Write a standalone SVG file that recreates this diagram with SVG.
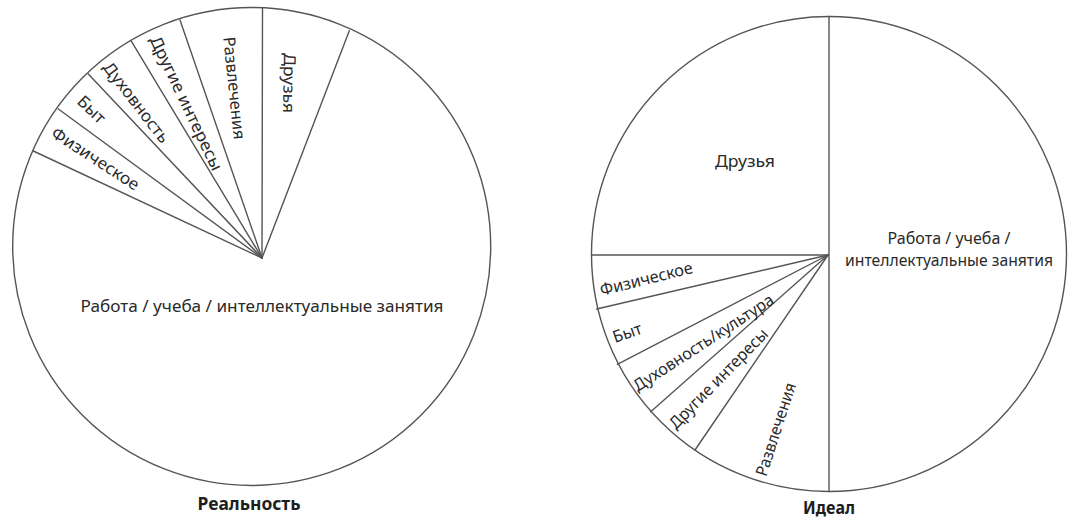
<svg xmlns="http://www.w3.org/2000/svg" width="1086" height="520" viewBox="0 0 1086 520">
  <style>
    .rim { fill: #fff; stroke: #555; stroke-width: 1.4; }
    .div { stroke: #555; stroke-width: 1.4; fill: none; stroke-linecap: round; }
    .lbl { font-family: "Noto Sans", "Open Sans", sans-serif; font-size: 16.5px; fill: #2a2a2a; text-anchor: middle; dominant-baseline: central; }
    .cap { font-family: "Noto Sans", "Open Sans", sans-serif; font-size: 17px; font-weight: bold; fill: #1e1e1e; text-anchor: middle; dominant-baseline: central; }
  </style>
  <rect width="1086" height="520" fill="#fff"/>

  <!-- Left chart: current balance -->
  <g id="pie-reality">
    <circle class="rim" cx="251.7" cy="246.5" r="239"/>
    <g id="reality-dividers">
      <line class="div" x1="262.5" y1="8" x2="262" y2="258"/>
      <line class="div" x1="349.3" y1="30.7" x2="262" y2="258"/>
      <line class="div" x1="180" y1="20" x2="262" y2="258"/>
      <line class="div" x1="131" y1="40.7" x2="262" y2="258"/>
      <line class="div" x1="88.3" y1="74" x2="262" y2="258"/>
      <line class="div" x1="58.3" y1="109" x2="262" y2="258"/>
      <line class="div" x1="33.3" y1="151" x2="262" y2="258"/>
    </g>
    <g id="reality-labels">
      <text class="lbl" transform="translate(290 83) rotate(91)" textLength="60" lengthAdjust="spacingAndGlyphs">Друзья</text>
      <text class="lbl" transform="translate(235 88) rotate(84)" textLength="103" lengthAdjust="spacingAndGlyphs">Развлечения</text>
      <text class="lbl" transform="translate(187 103) rotate(64.6)" textLength="147" lengthAdjust="spacingAndGlyphs">Другие интересы</text>
      <text class="lbl" transform="translate(137 102) rotate(52.5)" textLength="97" lengthAdjust="spacingAndGlyphs">Духовность</text>
      <text class="lbl" transform="translate(92 109) rotate(44)" textLength="32" lengthAdjust="spacingAndGlyphs">Быт</text>
      <text class="lbl" transform="translate(96 158) rotate(33)" textLength="101" lengthAdjust="spacingAndGlyphs">Физическое</text>
      <text class="lbl" x="262" y="305" textLength="363" lengthAdjust="spacingAndGlyphs">Работа / учеба / интеллектуальные занятия</text>
    </g>
    <text class="cap" x="249" y="503" textLength="103" lengthAdjust="spacingAndGlyphs">Реальность</text>
  </g>

  <!-- Right chart: desired balance -->
  <g id="pie-ideal">
    <circle class="rim" cx="829" cy="254" r="237.5"/>
    <g id="ideal-dividers">
      <line class="div" x1="829" y1="16.5" x2="829" y2="491.5"/>
      <line class="div" x1="591.5" y1="255" x2="828" y2="255"/>
      <line class="div" x1="596.7" y1="309" x2="828" y2="255"/>
      <line class="div" x1="617.3" y1="364.3" x2="828" y2="255"/>
      <line class="div" x1="650.7" y1="411.7" x2="828" y2="255"/>
      <line class="div" x1="695" y1="450" x2="828" y2="255"/>
    </g>
    <g id="ideal-labels">
      <text class="lbl" x="745" y="160" textLength="60" lengthAdjust="spacingAndGlyphs">Друзья</text>
      <text class="lbl" x="949" y="237" textLength="123" lengthAdjust="spacingAndGlyphs">Работа / учеба /</text>
      <text class="lbl" x="949" y="259" textLength="208" lengthAdjust="spacingAndGlyphs">интеллектуальные занятия</text>
      <text class="lbl" transform="translate(646 278) rotate(-14)" textLength="95" lengthAdjust="spacingAndGlyphs">Физическое</text>
      <text class="lbl" transform="translate(627 332) rotate(-19)" textLength="30" lengthAdjust="spacingAndGlyphs">Быт</text>
      <text class="lbl" transform="translate(703 342) rotate(-33)" textLength="164" lengthAdjust="spacingAndGlyphs">Духовность/культура</text>
      <text class="lbl" transform="translate(718 378) rotate(-45.6)" textLength="133" lengthAdjust="spacingAndGlyphs">Другие интересы</text>
      <text class="lbl" transform="translate(775 429) rotate(-72)" textLength="97" lengthAdjust="spacingAndGlyphs">Развлечения</text>
    </g>
    <text class="cap" x="829" y="507" textLength="52" lengthAdjust="spacingAndGlyphs">Идеал</text>
  </g>
</svg>
